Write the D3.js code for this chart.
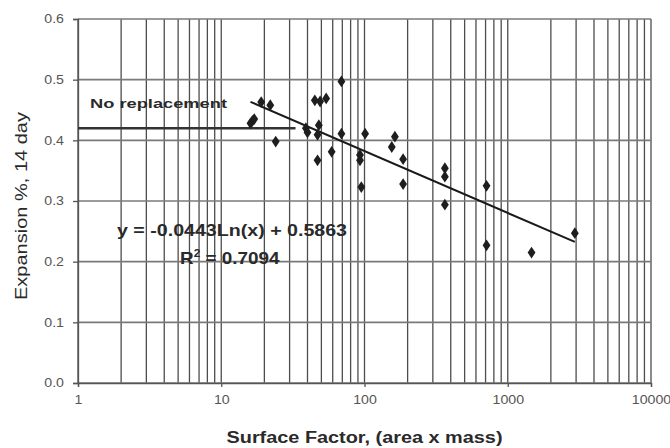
<!doctype html>
<html>
  <head>
    <meta charset="utf-8">
    <title>Expansion vs surface factor</title>
    <style>
      body { margin: 0; background: #fff; }
      svg { display: block; font-family: "Liberation Sans", Arial, sans-serif; }
      .grid line { stroke: #4d4d4d; stroke-width: 1.3; }
      .axis path, .axis line { stroke: #555; stroke-width: 1.3; }
      .axis text { fill: #555; font-size: 12px; }
      .title { fill: #2a2a2a; }
    </style>
  </head>
  <body>
    <div id="chart"></div>

    <script src="https://cdn.jsdelivr.net/npm/d3@7"></script>

    <script>
      // scatter: surface factor vs 14 day expansion (%)
      var surfaceFactor = [16, 16.5, 17, 19, 22, 24, 39, 40, 45, 47, 47, 48, 49, 54, 59, 69, 69,
                           93, 93, 95, 101, 155, 163, 186, 186, 364, 364, 364, 711, 711, 1466, 2940];
      var expansion = [0.428, 0.432, 0.435, 0.463, 0.458, 0.398, 0.420, 0.413, 0.466, 0.409, 0.367,
                       0.425, 0.464, 0.469, 0.381, 0.497, 0.411, 0.376, 0.367, 0.323, 0.411, 0.389,
                       0.406, 0.369, 0.328, 0.354, 0.340, 0.294, 0.325, 0.227, 0.215, 0.247];

      // logarithmic trend line, coefficients as printed on the chart
      var trendA = -0.0443, trendB = 0.5863, rSquared = 0.7094;

      // "No replacement" reference level
      var refX = [1, 33];
      var refY = [0.42, 0.42];

      var yTicks = [0, 0.1, 0.2, 0.3, 0.4, 0.5, 0.6];
      var xTicks = [1, 10, 100, 1000, 10000];

      var width = 670, height = 448;
      var margin = {top: 19, right: 19, bottom: 65, left: 78};
      var stretch = 1.18; // the scan is a bit wider than tall, text included

      var svg = d3.select('#chart').append('svg')
        .attr('width', width)
        .attr('height', height);

      var x = d3.scaleLog().domain([1, 10000]).range([margin.left, width - margin.right]);
      var y = d3.scaleLinear().domain([0, 0.6]).range([height - margin.bottom, margin.top]);

      // grid
      var grid = svg.append('g').attr('class', 'grid');
      grid.selectAll('line.v').data(x.ticks()).enter().append('line')
        .attr('class', 'v')
        .attr('x1', function(d) { return x(d); })
        .attr('x2', function(d) { return x(d); })
        .attr('y1', y(0)).attr('y2', y(0.6));
      grid.selectAll('line.h').data(yTicks).enter().append('line')
        .attr('class', 'h')
        .attr('x1', x(1)).attr('x2', x(10000))
        .attr('y1', function(d) { return y(d); })
        .attr('y2', function(d) { return y(d); })
        .style('stroke', '#7a7a7a').style('stroke-width', 1.6);

      // axes
      svg.append('g').attr('class', 'axis')
        .attr('transform', 'translate(' + margin.left + ',0)')
        .call(d3.axisLeft(y).tickValues(yTicks).tickFormat(d3.format('.1f')).tickSize(5).tickPadding(9));

      svg.append('g').attr('class', 'axis')
        .attr('transform', 'translate(0,' + y(0) + ')')
        .call(d3.axisBottom(x).tickValues(xTicks).tickFormat(d3.format('d')).tickSize(4).tickPadding(8));

      // widen the tick labels like the scan
      svg.selectAll('.axis text').each(function() {
        var w = this.getComputedTextLength();
        d3.select(this).attr('textLength', w * stretch).attr('lengthAdjust', 'spacingAndGlyphs');
      });

      // reference line
      svg.append('path')
        .datum(d3.zip(refX, refY))
        .attr('fill', 'none')
        .attr('stroke', '#333')
        .attr('stroke-width', 2.6)
        .attr('d', d3.line().x(function(d) { return x(d[0]); }).y(function(d) { return y(d[1]); }));

      // trend line over the data range
      var xMin = d3.min(surfaceFactor), xMax = d3.max(surfaceFactor);
      svg.append('line')
        .attr('x1', x(xMin)).attr('y1', y(trendA * Math.log(xMin) + trendB))
        .attr('x2', x(xMax)).attr('y2', y(trendA * Math.log(xMax) + trendB))
        .attr('stroke', '#1a1a1a')
        .attr('stroke-width', 2);

      // points
      svg.append('g').selectAll('path').data(d3.zip(surfaceFactor, expansion)).enter().append('path')
        .attr('transform', function(d) { return 'translate(' + x(d[0]) + ',' + y(d[1]) + ') scale(1.15,1)'; })
        .attr('d', d3.symbol().type(d3.symbolDiamond).size(40))
        .attr('fill', '#1e1e1e');

      // annotations
      svg.append('text')
        .attr('class', 'title')
        .attr('x', 90).attr('y', 108)
        .attr('textLength', 137).attr('lengthAdjust', 'spacingAndGlyphs')
        .style('font-size', '13px').style('font-weight', 'bold')
        .text('No replacement');

      svg.append('text')
        .attr('class', 'title')
        .attr('x', 117).attr('y', 236)
        .attr('textLength', 230).attr('lengthAdjust', 'spacingAndGlyphs')
        .style('font-size', '16px').style('font-weight', 'bold')
        .text('y = ' + trendA + 'Ln(x) + ' + trendB);

      var r2 = svg.append('text')
        .attr('class', 'title')
        .attr('transform', 'translate(180,264) scale(' + stretch + ',1)')
        .style('font-size', '16px').style('font-weight', 'bold');
      r2.append('tspan').text('R');
      r2.append('tspan').attr('dy', -7).style('font-size', '10px').text('2');
      r2.append('tspan').attr('dy', 7).text(' = ' + rSquared);

      // axis titles
      svg.append('text')
        .attr('class', 'title')
        .attr('transform', 'translate(27,' + (y(0.3) + 5) + ') rotate(-90)')
        .attr('text-anchor', 'middle')
        .attr('textLength', 188).attr('lengthAdjust', 'spacingAndGlyphs')
        .style('font-size', '17px')
        .text('Expansion %, 14 day');

      svg.append('text')
        .attr('class', 'title')
        .attr('x', (x(1) + x(10000)) / 2).attr('y', 443)
        .attr('text-anchor', 'middle')
        .attr('textLength', 276).attr('lengthAdjust', 'spacingAndGlyphs')
        .style('font-size', '16px').style('font-weight', 'bold')
        .text('Surface Factor, (area x mass)');
    </script>
  </body>
</html>
